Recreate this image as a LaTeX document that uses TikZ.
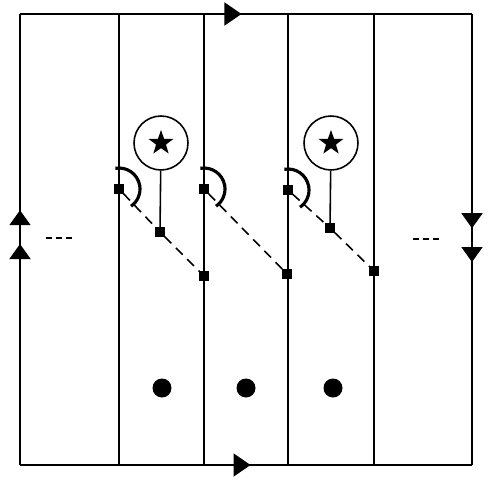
\documentclass[tikz,border=0pt]{standalone}
\usepackage{tikz}
\usetikzlibrary{arrows.meta, shapes.geometric, decorations.markings, positioning}

\tikzset{
  wire/.style={line width=0.9pt},
  sq/.style={draw, fill, rectangle, inner sep=0pt, minimum size=0.17cm},
  ring/.style={draw, circle, line width=0.9pt, minimum size=1.08cm, inner sep=0pt},
  starmark/.style={star, star points=5, star point ratio=2.5, fill, inner sep=0pt, minimum size=0.52cm},
  blob/.style={circle, fill, inner sep=0pt, minimum size=0.38cm},
  flow/.style n args={2}{postaction={decorate}, decoration={markings,
      mark=at position #1 with {\arrow{Triangle[length=0.3cm,width=0.42cm]}},
      mark=at position #2 with {\arrow{Triangle[length=0.3cm,width=0.42cm]}}}},
  flowone/.style={postaction={decorate}, decoration={markings,
      mark=at position #1 with {\arrow{Triangle[length=0.34cm,width=0.46cm]}}}},
}

\begin{document}
\begin{tikzpicture}[x=0.02cm, y=-0.02cm]
		\useasboundingbox (0,0) rectangle (500,480);
		% Corners of the loop
		\coordinate (tl) at (20,14);
		\coordinate (tr) at (472,14);
		\coordinate (bl) at (20,465);
		\coordinate (br) at (472,465);
		% Outer loop
		\draw[wire, flowone=0.49] (tl) -- (tr);
		\draw[wire, flowone=0.51] (bl) -- (br);
		\draw[wire, flow={0.49}{0.565}] (bl) -- (tl);
		\draw[wire, flow={0.475}{0.55}] (tr) -- (br);
		% Strands
		\foreach \x [count=\i] in {119,204,288,374} {
			\coordinate (t\i) at (\x,14);
			\coordinate (b\i) at (\x,465);
			\draw[wire] (t\i) -- (b\i);
		}
		% Dots at the sides
		\coordinate (ld1) at (46,238);
		\coordinate (ld2) at (73,238);
		\coordinate (rd1) at (413,239);
		\coordinate (rd2) at (441,239);
		\draw[wire, dash pattern=on 0.12cm off 0.08cm] (ld1) -- (ld2);
		\draw[wire, dash pattern=on 0.12cm off 0.08cm] (rd1) -- (rd2);
		% Squares on the strands
		\node[sq] (s1) at (119,189) {};
		\node[sq] (s2) at (204,189) {};
		\node[sq] (s3) at (288,190) {};
		\node[sq] (m1) at (160,232) {};
		\node[sq] (m2) at (330,228) {};
		\node[sq] (e1) at (204,276) {};
		\node[sq] (e2) at (287,274) {};
		\node[sq] (e3) at (374,271) {};
		% Diagonals
		\draw[wire, dash pattern=on 0.19cm off 0.13cm] (s1) -- (m1) -- (e1);
		\draw[wire, dash pattern=on 0.19cm off 0.13cm] (s2) -- (e2);
		\draw[wire, dash pattern=on 0.19cm off 0.13cm] (s3) -- (m2) -- (e3);
		% Half circles
		\foreach \s in {s1,s2,s3}
			\draw[line width=1.8pt] (\s) ++(100:0.42cm) arc[start angle=100, end angle=-55, radius=0.42cm];
		% Circled stars
		\node[ring] (c1) at (161,143) {};
		\node[starmark] (st1) at (c1) {};
		\node[ring] (c2) at (331,143) {};
		\node[starmark] (st2) at (c2) {};
		\draw[wire] (c1) -- (m1);
		\draw[wire] (c2) -- (m2);
		% Black dots
		\node[blob] (d1) at (162,388) {};
		\node[blob] (d2) at (246,388) {};
		\node[blob] (d3) at (333,388) {};
	\end{tikzpicture}
\end{document}
